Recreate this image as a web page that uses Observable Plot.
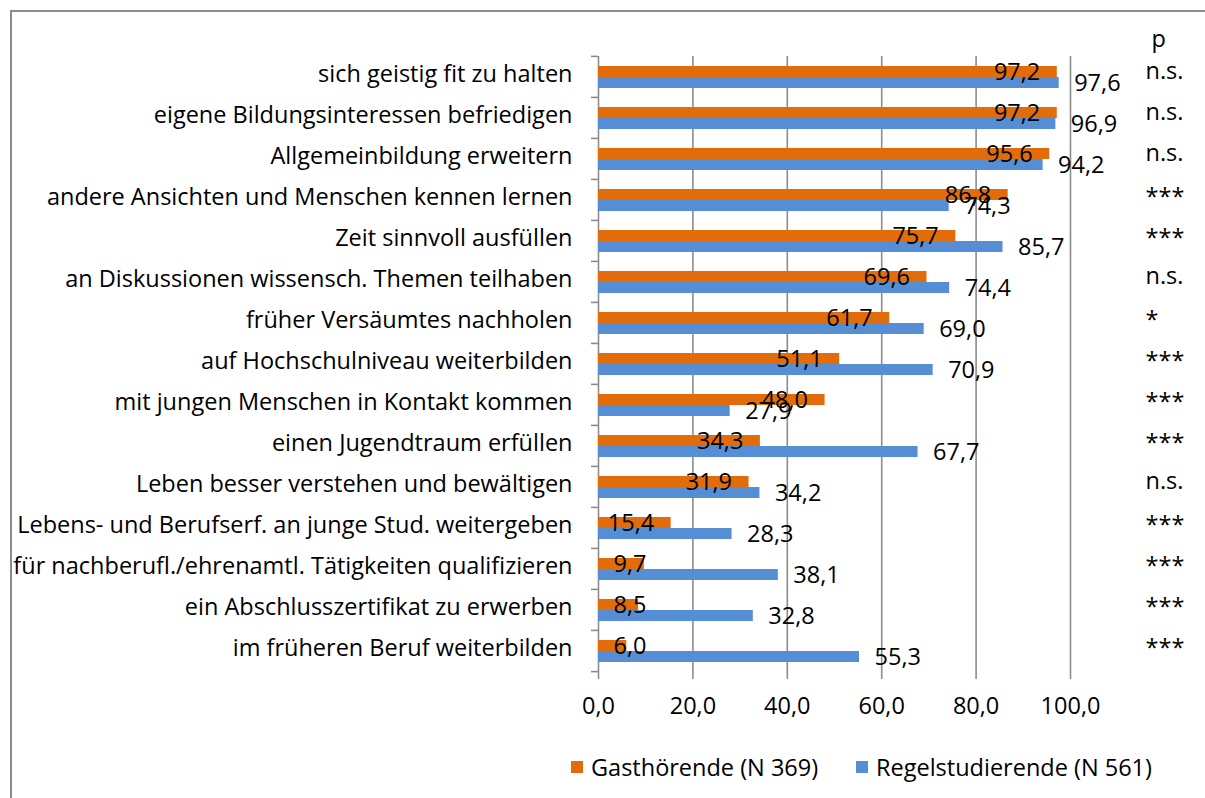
<!DOCTYPE html>
<html>
<head>
<meta charset="utf-8">
<script src="https://cdn.jsdelivr.net/npm/d3@7"></script>
<script src="https://cdn.jsdelivr.net/npm/@observablehq/plot@0.6"></script>
<style>
  html, body { margin: 0; padding: 0; background: #fff; overflow: hidden; }
  #wrap { position: relative; width: 1205px; height: 798px; overflow: hidden; font-family: "Open Sans", sans-serif; }
  #border { position: absolute; left: 10px; top: 10px; width: 1400px; height: 1000px; border-top: 2px solid #8c8c8c; border-left: 2px solid #8c8c8c; }
  #chart { position: absolute; left: 0; top: 0; }
  .lg { position: absolute; top: 751px; display: flex; align-items: center; font-size: 23.5px; color: #000; white-space: nowrap; }
  .lg span.sw { display: inline-block; width: 12px; height: 12px; margin-right: 8px; }
</style>
</head>
<body>
<div id="wrap">
  <div id="border"></div>
  <div id="chart"></div>
</div>
<script>
const categories = [
  "sich geistig fit zu halten",
  "eigene Bildungsinteressen befriedigen",
  "Allgemeinbildung erweitern",
  "andere Ansichten und Menschen kennen lernen",
  "Zeit sinnvoll ausfüllen",
  "an Diskussionen wissensch. Themen teilhaben",
  "früher Versäumtes nachholen",
  "auf Hochschulniveau weiterbilden",
  "mit jungen Menschen in Kontakt kommen",
  "einen Jugendtraum erfüllen",
  "Leben besser verstehen und bewältigen",
  "Lebens- und Berufserf. an junge Stud. weitergeben",
  "für nachberufl./ehrenamtl. Tätigkeiten qualifizieren",
  "ein Abschlusszertifikat zu erwerben",
  "im früheren Beruf weiterbilden"
];
const seriesNames = ["Gasthörende (N 369)", "Regelstudierende (N 561)"];
const gasthoerende = [97.2, 97.2, 95.6, 86.8, 75.7, 69.6, 61.7, 51.1, 48.0, 34.3, 31.9, 15.4, 9.7, 8.5, 6.0];
const regelstudierende = [97.6, 96.9, 94.2, 74.3, 85.7, 74.4, 69.0, 70.9, 27.9, 67.7, 34.2, 28.3, 38.1, 32.8, 55.3];
const pValues = ["n.s.", "n.s.", "n.s.", "***", "***", "n.s.", "*", "***", "***", "***", "n.s.", "***", "***", "***", "***"];
const pHeader = "p";
const xTicks = [0, 20, 40, 60, 80, 100];
const colors = ["#E36C0A", "#558ED5"];

const fmt = d => d.toFixed(1).replace(".", ",");

const rows = categories.flatMap((c, i) => [
  {cat: c, series: seriesNames[0], value: gasthoerende[i]},
  {cat: c, series: seriesNames[1], value: regelstudierende[i]}
]);
const gRows = rows.filter(d => d.series === seriesNames[0]);
const rRows = rows.filter(d => d.series === seriesNames[1]);
const pRows = categories.map((c, i) => ({cat: c, p: pValues[i]}));
const isStar = d => d.p.includes("*");

const W = 1205, H = 730, mt = 54, mb = 58, ml = 598, mr = 135;
const step = (H - mt - mb) / categories.length;
const grid = "#8c8c8c";
const smallBar = d => d.value < 12;
const FS = 23.5;

const chart = Plot.plot({
  width: W, height: H,
  marginLeft: ml, marginRight: mr, marginTop: mt, marginBottom: mb,
  style: {fontFamily: "Open Sans", fontSize: FS + "px", color: "#000", background: "transparent", overflow: "visible"},
  x: {domain: [0, 100], axis: null},
  fy: {domain: categories, padding: 0, label: null, axis: null},
  y: {domain: seriesNames, paddingInner: 0, paddingOuter: 0.82, axis: null},
  color: {domain: seriesNames, range: colors},
  marks: [
    Plot.gridX(xTicks, {stroke: grid, strokeOpacity: 1, strokeWidth: 1.6}),
    Plot.barX(rows, {fy: "cat", y: "series", x: "value", fill: "series"}),
    Plot.text(gRows.filter(d => !smallBar(d)), {fy: "cat", y: "series", x: "value", text: d => fmt(d.value), textAnchor: "end", dx: -17, dy: 0, fontSize: FS}),
    Plot.text(gRows.filter(smallBar), {fy: "cat", y: "series", x: 0, text: d => fmt(d.value), textAnchor: "start", dx: 15, dy: 0, fontSize: FS}),
    Plot.text(rRows, {fy: "cat", y: "series", x: "value", text: d => fmt(d.value), textAnchor: "start", dx: 15, dy: 0, fontSize: FS}),
    Plot.text(pRows.filter(d => !isStar(d)), {fy: "cat", text: "p", frameAnchor: "right", textAnchor: "start", dx: 75, dy: -6, fontSize: FS}),
    Plot.text(pRows.filter(isStar), {fy: "cat", text: "p", frameAnchor: "right", textAnchor: "start", dx: 75, dy: -3, fontSize: FS}),
    Plot.text([pHeader], {facet: "super", frameAnchor: "top-right", textAnchor: "start", dx: 81, dy: -26, fontSize: FS}),
    Plot.axisX({ticks: xTicks, tickFormat: fmt, tickSize: 8, tickPadding: 18, stroke: grid, strokeWidth: 1.6, fontSize: FS, label: null}),
    Plot.axisFy({anchor: "left", tickSize: 0, tickPadding: 26, fontSize: FS, dy: -3, label: null}),
    Plot.axisFy({anchor: "left", text: null, tickSize: 7, dy: -step / 2, stroke: grid, strokeWidth: 1.6, label: null}),
    Plot.axisFy({anchor: "left", ticks: [categories[categories.length - 1]], text: null, tickSize: 7, dy: step / 2, stroke: grid, strokeWidth: 1.6, label: null})
  ]
});
document.getElementById("chart").appendChild(chart);

const wrap = document.getElementById("wrap");
const legendLefts = [571, 856];
seriesNames.forEach((s, i) => {
  const el = document.createElement("div");
  el.className = "lg";
  el.style.left = legendLefts[i] + "px";
  el.innerHTML = `<span class="sw" style="background:${colors[i]}"></span><span>${s}</span>`;
  wrap.appendChild(el);
});
</script>
</body>
</html>
